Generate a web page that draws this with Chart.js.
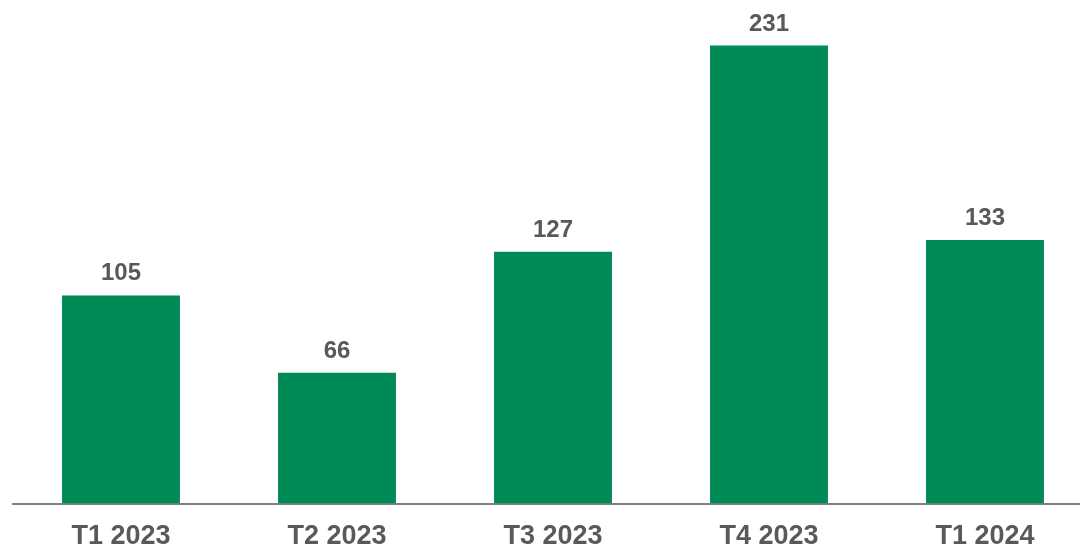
<!DOCTYPE html>
<html>
<head>
<meta charset="utf-8">
<script src="https://cdn.jsdelivr.net/npm/chart.js@4/dist/chart.umd.min.js"></script>
<style>
    html, body { margin: 0; padding: 0; background: #fff; overflow: hidden; }
    #wrap { width: 1093px; height: 570px; position: relative; }
</style>
</head>
<body>
<div id="wrap"><canvas id="barchart"></canvas></div>
<script>
var quarters = ['T1 2023', 'T2 2023', 'T3 2023', 'T4 2023', 'T1 2024'];
var values = [105, 66, 127, 231, 133];

var valueLabels = {
    id: 'valueLabels',
    afterDatasetsDraw: function (chart) {
        var ctx = chart.ctx;
        var meta = chart.getDatasetMeta(0);
        ctx.save();
        ctx.font = 'bold 24px "Liberation Sans", Arial, sans-serif';
        ctx.fillStyle = '#595959';
        ctx.textAlign = 'center';
        ctx.textBaseline = 'alphabetic';
        meta.data.forEach(function (bar, i) {
            ctx.fillText(values[i], bar.x, bar.y - 15);
        });
        ctx.restore();
    }
};

function initBarChart() {
    var canvas = document.getElementById('barchart');
    var ctx = canvas.getContext('2d');

    new Chart(ctx, {
        type: 'bar',
        data: {
            labels: quarters,
            datasets: [{
                data: values,
                backgroundColor: '#008a55',
                borderWidth: 0,
                categoryPercentage: 1,
                barPercentage: 0.546
            }]
        },
        options: {
            responsive: true,
            maintainAspectRatio: false,
            animation: false,
            layout: { padding: { left: 13, right: 0, top: 0, bottom: 0 } },
            plugins: {
                legend: { display: false },
                tooltip: { enabled: false }
            },
            scales: {
                x: {
                    grid: { display: false, drawTicks: false },
                    border: { display: true, color: '#808080', width: 2 },
                    ticks: {
                        color: '#595959',
                        padding: 17,
                        font: { family: '"Liberation Sans", Arial, sans-serif', size: 27, weight: 'bold' }
                    }
                },
                y: {
                    display: false,
                    min: 0,
                    max: 254
                }
            }
        },
        plugins: [valueLabels]
    });
}

document.addEventListener('DOMContentLoaded', initBarChart);
</script>
</body>
</html>
